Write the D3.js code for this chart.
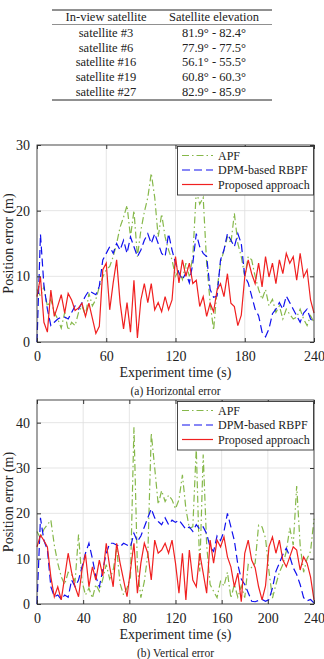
<!DOCTYPE html>
<html lang="en">
<head>
<meta charset="UTF-8">
<title>Position error</title>
<script src="https://d3js.org/d3.v7.min.js"></script>
<style>
  body { margin: 0; background: #fff; }
  svg text { font-family: "Times New Roman", "Liberation Serif", "DejaVu Serif", serif; fill: #222; }
</style>
</head>
<body>
<div id="chart"></div>
<script>

// table
var tableHead = ["In-view satellite", "Satellite elevation"];
var satNames = ["satellite #3", "satellite #6", "satellite #16", "satellite #19", "satellite #27"];
var satElev = ["81.9\u00B0 - 82.4\u00B0", "77.9\u00B0 - 77.5\u00B0", "56.1\u00B0 - 55.5\u00B0", "60.8\u00B0 - 60.3\u00B0", "82.9\u00B0 - 85.9\u00B0"];

// sampled every 3 s
var times = d3.range(0, 241, 3);
var seriesNames = ["APF", "DPM-based RBPF", "Proposed approach"];

var hAPF = [8, 7, 8.4, 5.4, 6.5, 4.5, 3.5, 2.1, 4.5, 1.8,
  3, 2.5, 4.5, 5.5, 4, 7.4, 5.5, 6.5, 8.4, 9.9,
  11, 11.5, 13, 15, 17.5, 19, 20.8, 16, 20, 13,
  17, 19.8, 22, 25.7, 22, 16, 19.5, 16, 14, 12.5,
  10, 11, 9.5, 12, 10, 13, 23, 21, 22, 12,
  6, 1.8, 8, 12, 14, 16, 15, 19.6, 15, 13,
  10, 13, 12.5, 10, 8, 6.5, 8, 5.5, 6.5, 4.5,
  5.5, 3.5, 5, 4.2, 3.5, 3.8, 5, 3.5, 2.5, 4, 3];
var hDPM = [0, 16.4, 8.6, 5, 2.5, 3, 3.5, 3.8, 3.8, 3.5,
  4.5, 5.5, 5, 6, 7, 7.8, 7.5, 7.2, 8.5, 12.5,
  13.5, 14.5, 13.5, 15, 14, 15.5, 13.5, 16, 14.5, 13,
  14, 15.5, 16.5, 15, 16.5, 15, 13.5, 13, 16.5, 14,
  12, 10.5, 9.5, 10.5, 9, 12, 16.5, 14.5, 13.5, 13,
  8, 6.8, 7, 12.5, 14, 16.5, 15.5, 14.5, 16.5, 15,
  10, 9, 7, 5, 4, 1.5, 0.8, 2, 4.3, 5,
  6, 5, 7, 6, 5, 4, 3, 4.4, 5, 3.5, 3];
var hProp = [6.9, 9.9, 3, 1.5, 7.9, 3.9, 5.5, 7.2, 4.4, 7.4,
  6.4, 4.8, 5.2, 5.9, 3.9, 5.9, 3.6, 1.3, 2.4, 11,
  12, 4.9, 9, 12.5, 6, 2, 6, 1.5, 9.4, 0.6,
  6.4, 8.9, 6, 8.9, 4.9, 6, 4.6, 6.9, 4.9, 6.4,
  13, 9, 12.5, 10, 12, 8.9, 9.4, 5.4, 6.9, 3.9,
  5.9, 4.6, 7.9, 8.9, 6.9, 10.4, 5.9, 5.4, 2.5, 4.1,
  9.9, 12.5, 10.4, 8.9, 12, 8.4, 13, 9.9, 12, 8.9,
  12.5, 10.4, 13.5, 12, 13, 9.4, 13.5, 9.9, 11, 6.4, 4.4];

var vAPF = [16, 14.5, 16.5, 17.5, 18.5, 13, 9, 6, 4.3, 7,
  6.5, 5, 15.3, 5, 2, 3.5, 1.3, 4.3, 2.8, 5.5,
  8.7, 5.5, 7.5, 12.3, 4.5, 2, 3.5, 6, 39, 8,
  1.4, 5, 10.9, 37.7, 30, 22, 25, 22.6, 24, 23,
  21, 23, 28.5, 21, 16.7, 17, 34.4, 7.2, 33, 13,
  4.3, 2.8, 1.4, 5, 4, 7, 1.3, 4.3, 1.5, 4,
  1.4, 8.7, 8, 9, 17.4, 17, 14.5, 7.2, 1.3, 4.3,
  7, 8.7, 11.6, 16.8, 13, 26, 13, 7, 10, 11.6, 18.8];
var vDPM = [0, 19, 14, 12, 3.8, 1.6, 2, 1, 2, 1.5,
  5.3, 3.8, 5.3, 8.2, 11.2, 13.4, 10, 6, 3.8, 7.5,
  11.2, 13.4, 13.4, 13, 12.6, 13.4, 13, 12.6, 15.6, 13.8,
  15, 17, 19, 21, 19, 18.2, 17.5, 19, 17.5, 18.5,
  18, 18.5, 17.5, 16.5, 17, 16, 17.5, 16.5, 17, 15.5,
  12.5, 11.6, 15, 14, 16, 20, 17, 14, 8.7, 5.5,
  4.3, 2.5, 0.6, 0.5, 0.8, 1, 0.6, 1, 3.5, 7.2,
  9, 10.9, 12.3, 10.5, 8, 6.5, 4.3, 1.4, 0.7, 1, 0.2];
var vProp = [12.6, 15.2, 14, 12.6, 6, 1.6, 3.8, 0.9, 6, 11.2,
  7, 3.8, 1.6, 7.5, 11, 3.8, 8.2, 5.3, 9.7, 6.2,
  13.4, 8.2, 3.8, 13.4, 9, 5.3, 1.6, 7.5, 13.4, 2.4,
  9, 13.4, 11.2, 5.3, 14.1, 11.2, 11.9, 13.4, 11.2, 14.1,
  9, 2.4, 11.2, 0.9, 11.9, 5.3, 3.8, 11.2, 6.8, 2.4,
  14.1, 9, 14.1, 12.6, 14.8, 10.4, 8.2, 3.8, 6.8, 0.5,
  11.2, 14.1, 9.7, 8, 3.8, 0.9, 4, 12.6, 14.8, 11.2,
  14.1, 9.7, 8.2, 10.4, 12.6, 11.9, 7.5, 10.4, 9, 6, 0.9];

var hXTicks = [0, 60, 120, 180, 240];
var hYTicks = [0, 10, 20, 30];
var vXTicks = [0, 40, 80, 120, 160, 200, 240];
var vYTicks = [0, 10, 20, 30, 40];

var colors = ["#86b84a", "#1010ee", "#f02020"];
var dashes = ["7,3,1.5,3", "8,4", null];
var serif = "'Times New Roman', 'Liberation Serif', serif";

var svg = d3.select("#chart").append("svg")
  .attr("width", 324)
  .attr("height", 659)
  .attr("font-family", serif);

// ---- table ----
var tbl = svg.append("g");
var tLeft = 52, tRight = 272, col1 = 106, col2 = 214;
tbl.append("line").attr("x1", tLeft).attr("x2", tRight).attr("y1", 10).attr("y2", 10)
  .attr("stroke", "#222").attr("stroke-width", 1);
tbl.append("line").attr("x1", tLeft).attr("x2", tRight).attr("y1", 24.5).attr("y2", 24.5)
  .attr("stroke", "#444").attr("stroke-width", 0.6);
tbl.append("line").attr("x1", tLeft).attr("x2", tRight).attr("y1", 100).attr("y2", 100)
  .attr("stroke", "#222").attr("stroke-width", 1);
tbl.selectAll(".head").data(tableHead).enter().append("text")
  .attr("x", function(d, i) { return i == 0 ? col1 : col2; })
  .attr("y", 21)
  .attr("text-anchor", "middle")
  .style("font-size", "12.5px")
  .text(function(d) { return d; });
tbl.selectAll(".c1").data(satNames).enter().append("text")
  .attr("x", col1)
  .attr("y", function(d, i) { return 37 + i * 14.7; })
  .attr("text-anchor", "middle")
  .style("font-size", "12.5px")
  .text(function(d) { return d; });
tbl.selectAll(".c2").data(satElev).enter().append("text")
  .attr("x", col2)
  .attr("y", function(d, i) { return 37 + i * 14.7; })
  .attr("text-anchor", "middle")
  .style("font-size", "12.5px")
  .text(function(d) { return d; });

// ---- one panel ----
function panel(top, bottom, yMax, xTicks, yTicks, data, caption) {
  var left = 37, right = 314;
  var x = d3.scaleLinear().domain([0, 240]).range([left, right]);
  var y = d3.scaleLinear().domain([0, yMax]).range([bottom, top]);
  var g = svg.append("g");

  // grid
  g.selectAll(".gx").data(xTicks.slice(1, -1)).enter().append("line")
    .attr("x1", x).attr("x2", x).attr("y1", top).attr("y2", bottom)
    .attr("stroke", "#dedede").attr("stroke-width", 0.8);
  g.selectAll(".gy").data(yTicks.slice(1).filter(function(d) { return d < yMax; })).enter().append("line")
    .attr("x1", left).attr("x2", right).attr("y1", y).attr("y2", y)
    .attr("stroke", "#dedede").attr("stroke-width", 0.8);

  // lines
  var plot = g.append("g");
  data.forEach(function(vals, i) {
    var line = d3.line()
      .x(function(d, j) { return x(times[j]); })
      .y(function(d) { return y(d); });
    plot.append("path")
      .datum(vals)
      .attr("d", line)
      .attr("fill", "none")
      .attr("stroke", colors[i])
      .attr("stroke-width", 1.2)
      .attr("stroke-dasharray", dashes[i]);
  });

  // axes (ticks inside, like matlab)
  var xa = g.append("g").attr("transform", "translate(0," + bottom + ")")
    .call(d3.axisBottom(x).tickValues(xTicks).tickSizeInner(-4).tickSizeOuter(0).tickPadding(9));
  var xt = g.append("g").attr("transform", "translate(0," + top + ")")
    .call(d3.axisTop(x).tickValues(xTicks).tickSizeInner(-4).tickSizeOuter(0).tickFormat(""));
  var ya = g.append("g").attr("transform", "translate(" + left + ",0)")
    .call(d3.axisLeft(y).tickValues(yTicks).tickSizeInner(-4).tickSizeOuter(0).tickPadding(7));
  var yr = g.append("g").attr("transform", "translate(" + right + ",0)")
    .call(d3.axisRight(y).tickValues(yTicks).tickSizeInner(-4).tickSizeOuter(0).tickFormat(""));
  [xa, xt, ya, yr].forEach(function(a) {
    a.attr("font-family", serif);
    a.select(".domain").remove();
    a.selectAll("line").attr("stroke", "#333");
    a.selectAll("text").style("font-size", "14px").attr("fill", "#222");
  });
  g.append("rect").attr("x", left).attr("y", top)
    .attr("width", right - left).attr("height", bottom - top)
    .attr("fill", "none").attr("stroke", "#333").attr("stroke-width", 0.9);

  // legend
  var lg = g.append("g");
  lg.append("rect").attr("x", 177.5).attr("y", top + 1.5)
    .attr("width", 136).attr("height", 48.5)
    .attr("fill", "#fff").attr("stroke", "#333").attr("stroke-width", 0.9);
  seriesNames.forEach(function(name, i) {
    var ly = top + 10.5 + i * 14.5;
    lg.append("line").attr("x1", 182).attr("x2", 213).attr("y1", ly).attr("y2", ly)
      .attr("stroke", colors[i]).attr("stroke-width", 1.2)
      .attr("stroke-dasharray", dashes[i]);
    lg.append("text").attr("x", 218).attr("y", ly + 4)
      .style("font-size", "12px").text(name);
  });

  // labels
  g.append("text").attr("x", (left + right) / 2).attr("y", bottom + 35)
    .attr("text-anchor", "middle").style("font-size", "14px")
    .text("Experiment time (s)");
  g.append("text")
    .attr("transform", "translate(13," + (top + bottom) / 2 + ") rotate(-90)")
    .attr("text-anchor", "middle").style("font-size", "14px")
    .text("Position error (m)");
  g.append("text").attr("x", (left + right) / 2).attr("y", bottom + 53)
    .attr("text-anchor", "middle").style("font-size", "11.5px")
    .text(caption);
}

panel(145, 342, 30, hXTicks, hYTicks, [hAPF, hDPM, hProp], "(a) Horizontal error");
panel(400, 604, 45, vXTicks, vYTicks, [vAPF, vDPM, vProp], "(b) Vertical error");

</script>
</body>
</html>
